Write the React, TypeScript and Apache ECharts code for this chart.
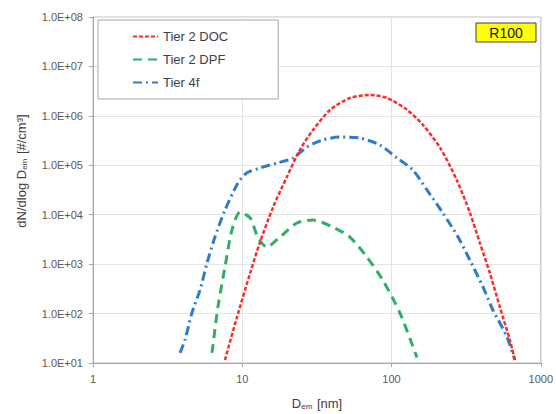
import React, { useEffect, useRef } from "react";
import * as echarts from "echarts";

const docX = [7.66, 9.22, 11.3, 13.1, 16.1, 19.9, 24.3, 29.8, 38.7, 52.6, 71.6, 93.2, 127, 162, 211, 274, 335, 391, 456, 532, 621, 670];
const docY = [11.5, 85, 662, 2680, 14300, 58000, 204000, 518000, 1310000, 2300000, 2640000, 2300000, 1330000, 660000, 230000, 50000, 11000, 2680, 662, 136, 29, 11.5];

const dpfX = [6.27, 6.87, 7.66, 8.53, 9.66, 11.3, 12.7, 14.6, 17.9, 23.2, 29.8, 40.5, 52.6, 68.4, 87.5, 114, 148];
const dpfY = [16, 136, 875, 4900, 11300, 8600, 3540, 2220, 3540, 6800, 7800, 5600, 3540, 1390, 474, 102, 13];

const t4X = [3.83, 4.13, 4.6, 5.21, 5.81, 6.56, 7.66, 9.35, 10.7, 13.1, 17.1, 21.9, 27.1, 34.7, 45.1, 61.4, 83.6, 109, 139, 173, 221, 279, 335, 410, 478, 593, 670];
const t4Y = [16, 29, 103, 300, 1055, 3540, 12400, 43800, 69800, 88000, 111000, 140000, 234000, 325000, 373000, 356000, 257000, 140000, 80400, 31600, 10800, 3540, 1210, 345, 118, 34, 11.5];

const seriesNames = ["Tier 2 DOC", "Tier 2 DPF", "Tier 4f"];
const xTicks = [1, 10, 100, 1000];
const yTicks = [10, 100, 1000, 10000, 100000, 1000000, 10000000, 100000000];

const FONT = "Liberation Sans, Arial, sans-serif";

function pairs(xs: number[], ys: number[]) {
  return xs.map((x, i) => [x, ys[i]]);
}

export default function App() {
  const ref = useRef<HTMLDivElement>(null);
  useEffect(() => {
    if (!ref.current) return;
    const chart = echarts.init(ref.current, undefined, { renderer: "svg" });
    const fmtY = (v: number) => {
      const e = Math.round(Math.log10(v));
      return "1.0E+" + (e < 10 ? "0" : "") + e;
    };
    const fmtX = (v: number) => String(Math.round(v));
    chart.setOption({
      animation: false,
      backgroundColor: "#ffffff",
      textStyle: { fontFamily: FONT },
      grid: {
        left: 93,
        top: 17,
        width: 448,
        height: 346,
        show: true,
        borderColor: "#bfbfbf",
        borderWidth: 1,
      },
      legend: {
        data: seriesNames,
        orient: "vertical",
        left: 98,
        top: 20,
        padding: [10, 50, 10, 34],
        itemWidth: 25,
        itemHeight: 14,
        itemGap: 10,
        borderColor: "#a6a6a6",
        borderWidth: 1,
        backgroundColor: "#ffffff",
        itemStyle: { opacity: 0, borderWidth: 0 },
        textStyle: { fontSize: 13, color: "#404040", fontFamily: FONT },
      },
      xAxis: {
        type: "log",
        logBase: 10,
        min: xTicks[0],
        max: xTicks[xTicks.length - 1],
        axisLine: { lineStyle: { color: "#a6a6a6" } },
        axisTick: { show: true, length: 4, lineStyle: { color: "#a6a6a6" } },
        axisLabel: { fontSize: 11, color: "#595959", margin: 10, formatter: fmtX, fontFamily: FONT },
        splitLine: { show: true, lineStyle: { color: "#e3e3e3", width: 1 } },
        minorTick: { show: false },
      },
      yAxis: {
        type: "log",
        logBase: 10,
        min: yTicks[0],
        max: yTicks[yTicks.length - 1],
        axisLine: { show: true, lineStyle: { color: "#a6a6a6" } },
        axisTick: { show: true, length: 4, lineStyle: { color: "#a6a6a6" } },
        axisLabel: { fontSize: 11, color: "#595959", margin: 10, formatter: fmtY, fontFamily: FONT },
        splitLine: { show: true, lineStyle: { color: "#e3e3e3", width: 1 } },
      },
      graphic: [
        {
          type: "text",
          x: 21,
          y: 171,
          rotation: Math.PI / 2,
          style: {
            text: "dN/dlog D{sub|em} [#/cm³]",
            fontSize: 13,
            fill: "#404040",
            fontFamily: FONT,
            align: "center",
            verticalAlign: "middle",
            rich: {
              sub: { fontSize: 8, fill: "#404040", verticalAlign: "bottom", padding: [7, 1, 0, 0] },
            },
          },
        },
        {
          type: "text",
          x: 317,
          y: 403,
          style: {
            text: "D{sub|em} [nm]",
            fontSize: 13,
            fill: "#404040",
            fontFamily: FONT,
            align: "center",
            verticalAlign: "middle",
            rich: {
              sub: { fontSize: 8, fill: "#404040", verticalAlign: "bottom", padding: [7, 1, 0, 0] },
            },
          },
        },
        {
          type: "rect",
          shape: { x: 476, y: 23, width: 60, height: 19 },
          style: { fill: "#ffff00", stroke: "#3c3c5a", lineWidth: 1 },
          z: 100,
        },
        {
          type: "text",
          x: 506,
          y: 33,
          z: 101,
          style: {
            text: "R100",
            fontSize: 14,
            fill: "#111111",
            fontFamily: FONT,
            align: "center",
            verticalAlign: "middle",
          },
        },
      ],
      series: [
        {
          name: seriesNames[0],
          type: "line",
          smooth: 0.25,
          symbol: "none",
          data: pairs(docX, docY),
          lineStyle: { color: "#ff2a2a", width: 2.5, type: [4, 2] },
          itemStyle: { color: "#ff2a2a" },
          z: 3,
        },
        {
          name: seriesNames[1],
          type: "line",
          smooth: 0.25,
          symbol: "none",
          data: pairs(dpfX, dpfY),
          lineStyle: { color: "#2eaf68", width: 3, type: [9, 6] },
          itemStyle: { color: "#2eaf68" },
          z: 2,
        },
        {
          name: seriesNames[2],
          type: "line",
          smooth: 0.25,
          symbol: "none",
          data: pairs(t4X, t4Y),
          lineStyle: { color: "#2f7ccb", width: 3, type: [9, 4, 2, 4] },
          itemStyle: { color: "#2f7ccb" },
          z: 2,
        },
      ],
    });
    return () => chart.dispose();
  }, []);
  return (
    <div
      ref={ref}
      style={{ position: "absolute", left: 0, top: 0, width: 556, height: 414 }}
    />
  );
}
